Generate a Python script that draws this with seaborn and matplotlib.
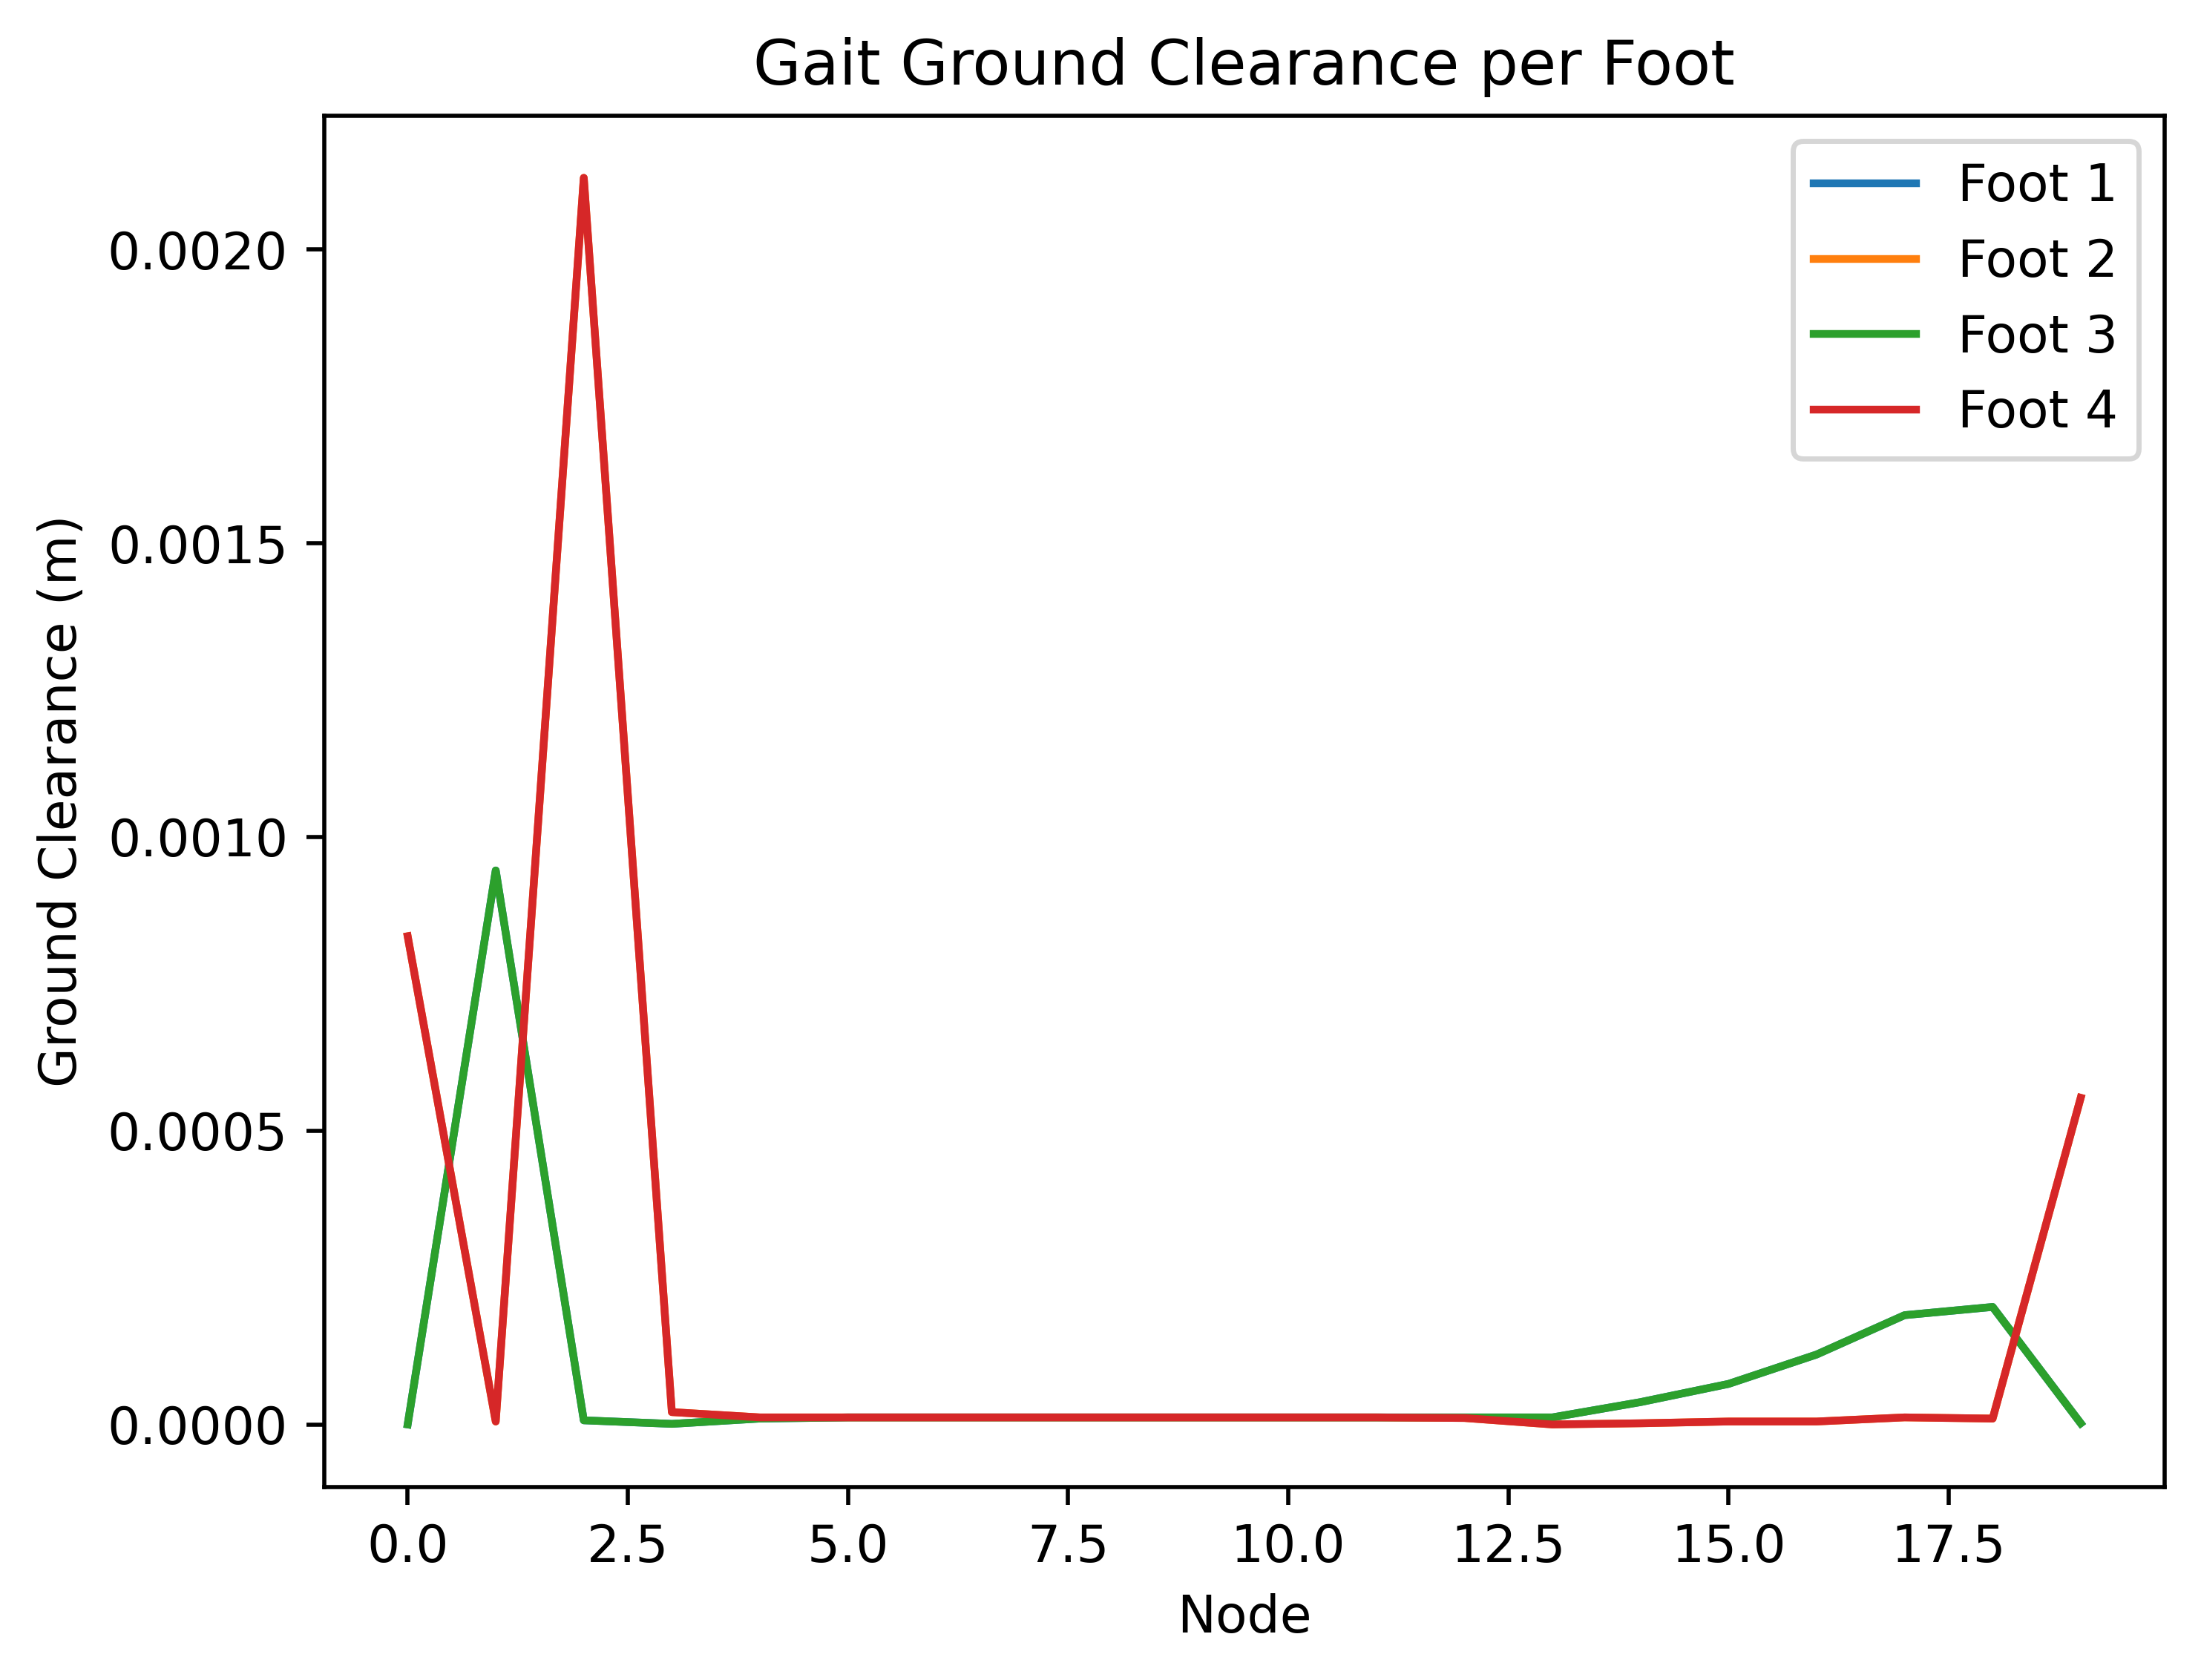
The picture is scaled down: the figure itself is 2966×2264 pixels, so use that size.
import numpy as np
import pandas as pd
import seaborn as sns
import matplotlib
matplotlib.use("Agg")
import matplotlib.pyplot as plt

# Data ----------------------------------------
nodes = list(range(20))

foot_3 = [0.0, 0.000943, 0.000007, 0.000001, 0.000010, 0.000012, 0.000012,
          0.000012, 0.000012, 0.000012, 0.000012, 0.000012, 0.000012,
          0.000012, 0.000038, 0.000069, 0.000119, 0.000186, 0.000200,
          0.000002]
foot_4 = [0.000831, 0.000005, 0.002122, 0.000021, 0.000012, 0.000012,
          0.000012, 0.000012, 0.000012, 0.000012, 0.000012, 0.000012,
          0.000011, 0.0, 0.000002, 0.000005, 0.000005, 0.000012, 0.000010,
          0.000556]
# feet 1 and 2 sit underneath feet 3 and 4
foot_1 = list(foot_3)
foot_2 = list(foot_4)

feet = ["Foot 1", "Foot 2", "Foot 3", "Foot 4"]
series = [foot_1, foot_2, foot_3, foot_4]

df = pd.concat(
    [pd.DataFrame({"Node": nodes, "Clearance": vals, "Foot": name})
     for name, vals in zip(feet, series)],
    ignore_index=True,
)

## Plot ---------
fig, ax = plt.subplots(figsize=(6.4, 4.8), dpi=500)
colors = sns.color_palette("tab10", 4)
for name, c in zip(feet, colors):
    sub = df[df["Foot"] == name]
    sns.lineplot(data=sub, x="Node", y="Clearance", color=c, label=name, ax=ax)

ax.set_xlabel("Node")
ax.set_ylabel("Ground Clearance (m)")
ax.set_title("Gait Ground Clearance per Foot")
ax.legend(loc="upper right")

fig.savefig("out.png", dpi=500, bbox_inches="tight")
